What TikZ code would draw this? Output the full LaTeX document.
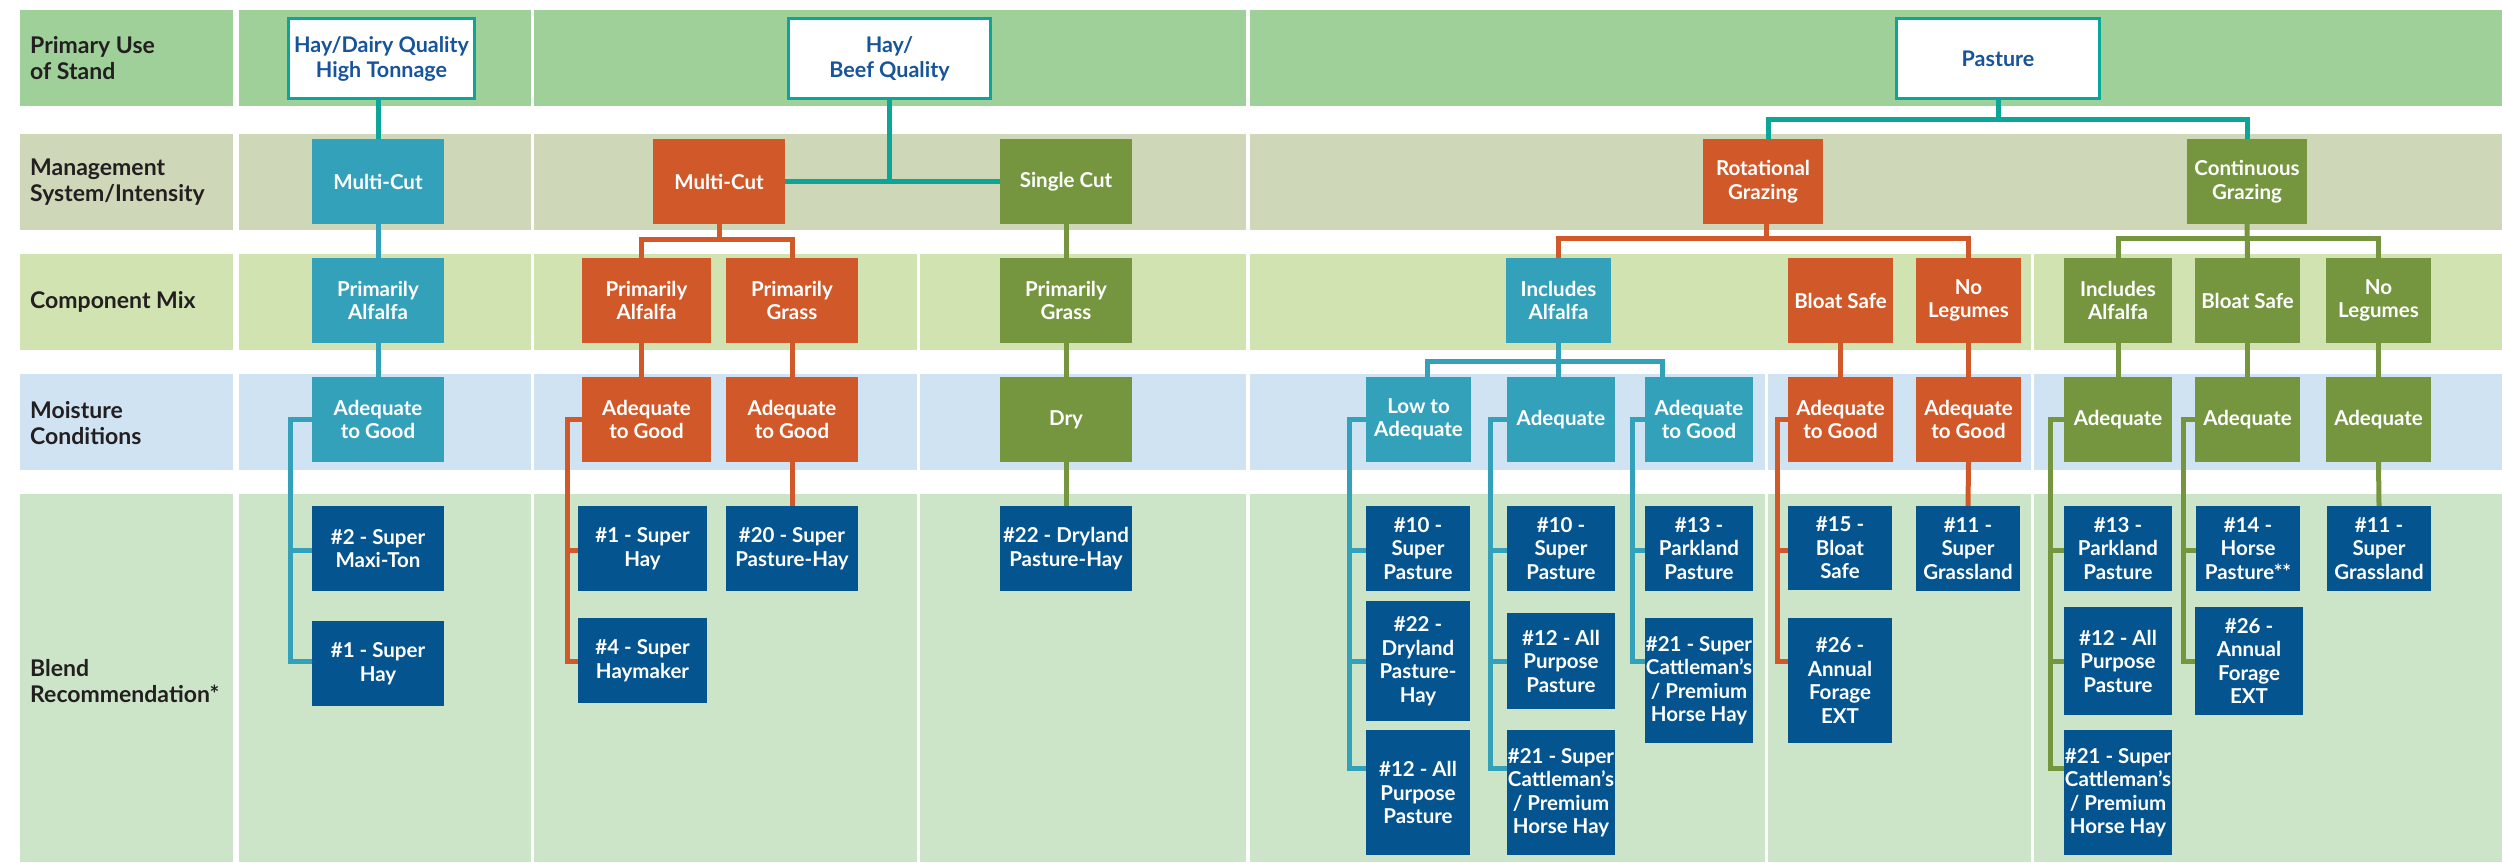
\documentclass[tikz,border=0pt]{standalone}
\usepackage{fontspec}
\setmainfont{Lato}
\usetikzlibrary{calc}
\definecolor{cTeal}{RGB}{12,166,152}
\definecolor{cBlue}{RGB}{52,161,187}
\definecolor{cOrg}{RGB}{209,88,40}
\definecolor{cGrn}{RGB}{117,150,63}
\definecolor{cNavy}{RGB}{3,84,143}
\definecolor{cTopText}{RGB}{23,84,154}
\definecolor{cLab}{RGB}{35,31,32}
\definecolor{rowA}{RGB}{159,208,154}
\definecolor{rowB}{RGB}{206,215,184}
\definecolor{rowC}{RGB}{208,227,176}
\definecolor{rowD}{RGB}{207,227,243}
\definecolor{rowE}{RGB}{204,229,201}
\newcommand\boxfont{\fontsize{20.5}{23.5}\selectfont\bfseries}
\newcommand\topfont{\fontsize{21.5}{25}\selectfont\bfseries}
\newcommand\labfont{\fontsize{23}{26.5}\selectfont\bfseries}
\newcommand\mybox[7]{\node[#1, minimum width={#4-#3}, minimum height={#6-#5}] (#2) at ({(#3+#4)/2},{(#5+#6)/2}) {#7};}
\newcommand\topbx[7]{\node[#1, minimum width={#4-#3-3}, minimum height={#6-#5-3}] (#2) at ({(#3+#4)/2},{(#5+#6)/2}) {#7};}
\tikzset{
  box/.style={inner sep=0pt, align=center, font=\boxfont, text=white},
  bluebox/.style={box, fill=cBlue},
  orgbox/.style={box, fill=cOrg},
  grnbox/.style={box, fill=cGrn},
  navbox/.style={box, fill=cNavy},
  topbox/.style={box, font=\topfont, fill=white, draw=cTeal, line width=3pt, text=cTopText},
  lab/.style={anchor=west, align=left, inner sep=0pt, font=\labfont, text=cLab},
  conn/.style={line width=5pt, line join=miter},
  tline/.style={conn, draw=cTeal},
  bline/.style={conn, draw=cBlue},
  oline/.style={conn, draw=cOrg},
  gline/.style={conn, draw=cGrn}
}
\begin{document}
\begin{tikzpicture}[x=1pt,y=-1pt]
\useasboundingbox (0,0) rectangle (2502,862);
% bands
\foreach \a/\b in {20/233,239/531,534/1246,1250/2502}{
  \fill[rowA] (\a,10) rectangle (\b,106);
  \fill[rowB] (\a,134) rectangle (\b,230);}
\foreach \a/\b in {20/233,239/531,534/917,920/1246,1250/2031,2034/2502}{
  \fill[rowC] (\a,254) rectangle (\b,350);}
\foreach \a/\b in {20/233,239/531,534/917,920/1246,1250/1765,1768/2031,2034/2502}{
  \fill[rowD] (\a,374) rectangle (\b,470);
  \fill[rowE] (\a,494) rectangle (\b,862);}
% labels
\node[lab] (l1) at (30,58) {Primary Use\\of Stand};
\node[lab] (l2) at (30,182) {Management\\System/Intensity};
\node[lab] (l3) at (30,302) {Component Mix};
\node[lab] (l4) at (30,423) {Moisture\\Conditions};
\node[lab] (l5) at (30,681) {Blend\\Recommendation*};
% branch levels
\coordinate (L1) at (0,550);
\coordinate (L2) at (0,661);
\coordinate (L3) at (0,768);
% row 1
\topbx{topbox}{pA}{287}{476}{17}{100}{Hay/Dairy Quality\\High Tonnage}
\topbx{topbox}{pB}{787}{992}{17}{100}{Hay/\\Beef Quality}
\topbx{topbox}{pC}{1895}{2101}{17}{100}{Pasture}
% row 2
\mybox{bluebox}{mA}{312}{444}{139}{224}{Multi-Cut}
\mybox{orgbox}{mB}{653}{785}{139}{224}{Multi-Cut}
\mybox{grnbox}{sB}{1000}{1132}{139}{224}{Single Cut}
\mybox{orgbox}{rC}{1703}{1823}{139}{224}{Rotational\\Grazing}
\mybox{grnbox}{cC}{2187}{2307}{139}{224}{Continuous\\Grazing}
% row 3
\mybox{bluebox}{cA}{312}{444}{258}{343}{Primarily\\Alfalfa}
\mybox{orgbox}{cB1}{582}{711}{258}{343}{Primarily\\Alfalfa}
\mybox{orgbox}{cB2}{726}{858}{258}{343}{Primarily\\Grass}
\mybox{grnbox}{cB3}{1000}{1132}{258}{343}{Primarily\\Grass}
\mybox{bluebox}{cC1}{1506}{1611}{258}{343}{Includes\\Alfalfa}
\mybox{orgbox}{cC2}{1788}{1893}{258}{343}{Bloat Safe}
\mybox{orgbox}{cC3}{1916}{2021}{258}{343}{No\\Legumes}
\mybox{grnbox}{cC4}{2064}{2172}{258}{343}{Includes\\Alfalfa}
\mybox{grnbox}{cC5}{2195}{2300}{258}{343}{Bloat Safe}
\mybox{grnbox}{cC6}{2326}{2431}{258}{343}{No\\Legumes}
% row 4
\mybox{bluebox}{dA}{312}{444}{377}{462}{Adequate\\to Good}
\mybox{orgbox}{dB1}{582}{711}{377}{462}{Adequate\\to Good}
\mybox{orgbox}{dB2}{726}{858}{377}{462}{Adequate\\to Good}
\mybox{grnbox}{dB3}{1000}{1132}{377}{462}{Dry}
\mybox{bluebox}{dC1}{1366}{1471}{377}{462}{Low to\\Adequate}
\mybox{bluebox}{dC2}{1507}{1615}{377}{462}{Adequate}
\mybox{bluebox}{dC3}{1645}{1753}{377}{462}{Adequate\\to Good}
\mybox{orgbox}{dC4}{1788}{1893}{377}{462}{Adequate\\to Good}
\mybox{orgbox}{dC5}{1916}{2021}{377}{462}{Adequate\\to Good}
\mybox{grnbox}{dC6}{2064}{2172}{377}{462}{Adequate}
\mybox{grnbox}{dC7}{2195}{2300}{377}{462}{Adequate}
\mybox{grnbox}{dC8}{2326}{2431}{377}{462}{Adequate}
% row 5
\mybox{navbox}{eA1}{312}{444}{506}{591}{\#2 - Super\\Maxi-Ton}
\mybox{navbox}{eA2}{312}{444}{621}{706}{\#1 - Super\\Hay}
\mybox{navbox}{eB1}{578}{707}{506}{591}{\#1 - Super\\Hay}
\mybox{navbox}{eB2}{578}{707}{618}{703}{\#4 - Super\\Haymaker}
\mybox{navbox}{eB3}{726}{858}{506}{591}{\#20 - Super\\Pasture-Hay}
\mybox{navbox}{eB4}{1000}{1132}{506}{591}{\#22 - Dryland\\Pasture-Hay}
\mybox{navbox}{eC1}{1366}{1470}{506}{591}{\#10 -\\Super\\Pasture}
\mybox{navbox}{eC2}{1366}{1470}{601}{721}{\#22 -\\Dryland\\Pasture-\\Hay}
\mybox{navbox}{eC3}{1366}{1470}{730}{855}{\#12 - All\\Purpose\\Pasture}
\mybox{navbox}{eC4}{1507}{1615}{506}{591}{\#10 -\\Super\\Pasture}
\mybox{navbox}{eC5}{1507}{1615}{613}{709}{\#12 - All\\Purpose\\Pasture}
\mybox{navbox}{eC6}{1507}{1615}{730}{855}{\#21 - Super\\Cattleman's\\/ Premium\\Horse Hay}
\mybox{navbox}{eC7}{1645}{1753}{506}{591}{\#13 -\\Parkland\\Pasture}
\mybox{navbox}{eC8}{1645}{1753}{618}{743}{\#21 - Super\\Cattleman's\\/ Premium\\Horse Hay}
\mybox{navbox}{eC9}{1788}{1892}{506}{590}{\#15 -\\Bloat\\Safe}
\mybox{navbox}{eC10}{1788}{1892}{618}{743}{\#26 -\\Annual\\Forage\\EXT}
\mybox{navbox}{eC11}{1916}{2020}{506}{591}{\#11 -\\Super\\Grassland}
\mybox{navbox}{eC12}{2064}{2172}{506}{591}{\#13 -\\Parkland\\Pasture}
\mybox{navbox}{eC13}{2064}{2172}{607}{715}{\#12 - All\\Purpose\\Pasture}
\mybox{navbox}{eC14}{2064}{2172}{730}{855}{\#21 - Super\\Cattleman's\\/ Premium\\Horse Hay}
\mybox{navbox}{eC15}{2196}{2300}{506}{591}{\#14 -\\Horse\\Pasture**}
\mybox{navbox}{eC16}{2195}{2303}{607}{715}{\#26 -\\Annual\\Forage\\EXT}
\mybox{navbox}{eC17}{2327}{2431}{506}{591}{\#11 -\\Super\\Grassland}
% ---- connectors ----
% Hay/Dairy column
\draw[tline] (mA.north |- pA.south) -- (mA.north);
\draw[bline] (mA.south) -- (cA.north);
\draw[bline] (cA.south) -- (dA.north);
\coordinate (bA) at ([xshift=-21.5pt]dA.west);
\draw[bline] (dA.west) -- (bA) |- (eA2.west |- L2);
\draw[bline] (bA |- L1) -- (eA1.west |- L1);
% Hay/Beef column
\draw[tline] (pB.south) -- (pB.south |- mB.east);
\draw[tline] (mB.east) -- (sB.west);
\draw[oline] (mB.south) -- ++(0,15.5);
\draw[oline] ([xshift=-5.5pt]cB1.north) -- ++(0,-18.5) -| (cB2.north);
\draw[oline] ([xshift=-5.5pt]cB1.south) -- ([xshift=-5.5pt]dB1.north);
\draw[oline] (cB2.south) -- (dB2.north);
\coordinate (bB) at ([xshift=-14pt]dB1.west);
\draw[oline] (dB1.west) -- (bB) |- (eB2.west |- L2);
\draw[oline] (bB |- L1) -- (eB1.west |- L1);
\draw[oline] (dB2.south) -- (eB3.north);
\draw[gline] (sB.south) -- (cB3.north);
\draw[gline] (cB3.south) -- (dB3.north);
\draw[gline] (dB3.south) -- (eB4.north);
% Pasture column
\draw[tline] (pC.south) -- ++(0,21.5);
\draw[tline] ([xshift=5.5pt]rC.north) -- ++(0,-19) -| (cC.north);
\draw[oline] ([xshift=3pt]rC.south) -- ++(0,15);
\draw[oline] (cC1.north) -- ++(0,-19.5) -| (cC3.north);
\draw[gline] (cC.south) -- (cC5.north);
\draw[gline] (cC4.north) -- ++(0,-19.5) -| (cC6.north);
\draw[bline] (cC1.south) -- (cC1.south |- dC2.north);
\draw[bline] ([xshift=9pt]dC1.north) -- ++(0,-15.5) -| ([xshift=-37pt]dC3.north);
\draw[oline] (cC2.south) -- (dC4.north);
\draw[oline] (cC3.south) -- (dC5.north);
\draw[gline] (cC4.south) -- (dC6.north);
\draw[gline] (cC5.south) -- (dC7.north);
\draw[gline] (cC6.south) -- (dC8.north);
% brackets to blends
\coordinate (bC1) at ([xshift=-16pt]dC1.west);
\draw[bline] (dC1.west) -- (bC1) |- (eC3.west |- L3);
\draw[bline] (bC1 |- L1) -- (eC1.west |- L1);
\draw[bline] (bC1 |- L2) -- (eC2.west |- L2);
\coordinate (bC2) at ([xshift=-16pt]dC2.west);
\draw[bline] (dC2.west) -- (bC2) |- (eC6.west |- L3);
\draw[bline] (bC2 |- L1) -- (eC4.west |- L1);
\draw[bline] (bC2 |- L2) -- (eC5.west |- L2);
\coordinate (bC3) at ([xshift=-12.5pt]dC3.west);
\draw[bline] (dC3.west) -- (bC3) |- (eC8.west |- L2);
\draw[bline] (bC3 |- L1) -- (eC7.west |- L1);
\coordinate (bC4) at ([xshift=-10.5pt]dC4.west);
\draw[oline] (dC4.west) -- (bC4) |- (eC10.west |- L2);
\draw[oline] (bC4 |- L1) -- (eC9.west |- L1);
\draw[oline] (dC5.south) -- (eC11.north);
\coordinate (bC6) at ([xshift=-13.5pt]dC6.west);
\draw[gline] (dC6.west) -- (bC6) |- (eC14.west |- L3);
\draw[gline] (bC6 |- L1) -- (eC12.west |- L1);
\draw[gline] (bC6 |- L2) -- (eC13.west |- L2);
\coordinate (bC7) at ([xshift=-11.5pt]dC7.west);
\draw[gline] (dC7.west) -- (bC7) |- (eC16.west |- L2);
\draw[gline] (bC7 |- L1) -- (eC15.west |- L1);
\draw[gline] (dC8.south) -- (eC17.north);
\end{tikzpicture}
\end{document}
